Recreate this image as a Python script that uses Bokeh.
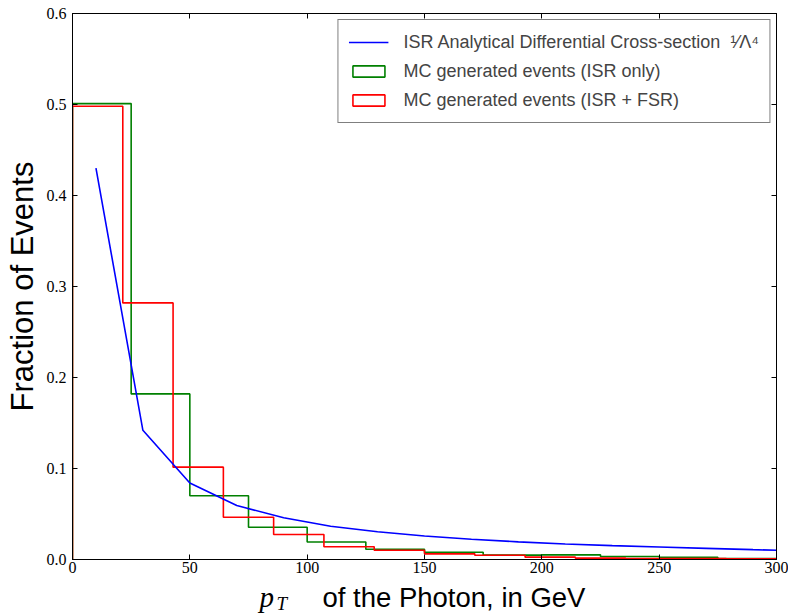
import numpy as np
from bokeh.plotting import figure
from bokeh.layouts import column
from bokeh.models import (Range1d, LinearAxis, FixedTicker, PrintfTickFormatter, Label,
                          Legend, LegendItem)
from bokeh.embed import file_html
from bokeh.resources import INLINE

# ---------------- data ----------------
x_ticks = [0, 50, 100, 150, 200, 250, 300]
y_ticks = [0.0, 0.1, 0.2, 0.3, 0.4, 0.5, 0.6]

# analytical ISR curve
curve_pt = [10, 30, 50, 70, 90, 110, 130, 150, 170, 190, 210, 230, 250, 270, 290, 310]
curve_frac = [0.430, 0.142, 0.084, 0.0593, 0.0458, 0.0365, 0.0305, 0.0258, 0.0222,
              0.0194, 0.0171, 0.0152, 0.0137, 0.0122, 0.0108, 0.0095]

# MC (ISR only) histogram
isr_edges = [0, 25, 50, 75, 100, 125, 150, 175, 200, 225, 250, 275, 300]
isr_frac = [0.501, 0.182, 0.070, 0.0355, 0.0193, 0.0113, 0.0080, 0.0048, 0.0051,
            0.0033, 0.0025, 0.0010]

# MC (ISR + FSR) histogram
fsr_edges = [0, 21.43, 42.86, 64.29, 85.71, 107.14, 128.57, 150, 171.43, 192.86,
             214.29, 235.71, 257.14, 278.57, 300]
fsr_frac = [0.498, 0.282, 0.1015, 0.0465, 0.0275, 0.0140, 0.0102, 0.0062, 0.0047,
            0.0026, 0.0015, 0.0010, 0.0010, 0.0008]

labels = ["ISR Analytical Differential Cross-section\u00a0\u00a0\u00b9\u2044\u039b\u2074",
          "MC generated events (ISR only)",
          "MC generated events (ISR + FSR)"]


def outline(edges, vals):
    xs, ys = [edges[0]], [0.0]
    for i, v in enumerate(vals):
        xs += [edges[i], edges[i + 1]]
        ys += [v, v]
    xs.append(edges[-1])
    ys.append(0.0)
    return xs, ys


p = figure(width=788, height=580, output_backend="svg", toolbar_location=None,
           x_range=Range1d(0, 300), y_range=Range1d(0, 0.6),
           min_border_left=72, min_border_right=12, min_border_top=13, min_border_bottom=21,
           background_fill_color="white", border_fill_color="white")
p.grid.visible = False
p.outline_line_color = "black"
p.outline_line_width = 1

for ax in (p.xaxis[0], p.yaxis[0]):
    ax.major_tick_in = 5
    ax.major_tick_out = 0
    ax.minor_tick_line_color = None
    ax.axis_line_color = "black"
    ax.major_tick_line_color = "black"
    ax.major_label_text_font = "Liberation Serif"
    ax.major_label_text_font_size = "16px"
    ax.major_label_text_color = "black"
    ax.major_label_standoff = 6
p.xaxis[0].major_label_standoff = 2
p.xaxis[0].ticker = FixedTicker(ticks=x_ticks)
p.yaxis[0].ticker = FixedTicker(ticks=y_ticks)
p.yaxis[0].formatter = PrintfTickFormatter(format="%.1f")

p.yaxis[0].axis_label = "Fraction of Events"
p.yaxis[0].axis_label_text_font = "Liberation Sans"
p.yaxis[0].axis_label_text_font_style = "normal"
p.yaxis[0].axis_label_text_font_size = "31px"
p.yaxis[0].axis_label_text_color = "black"
p.yaxis[0].axis_label_standoff = 4

for loc, ticks in (("above", x_ticks), ("right", y_ticks)):
    ax2 = LinearAxis(ticker=FixedTicker(ticks=ticks), major_tick_in=5, major_tick_out=0,
                     minor_tick_line_color=None,
                     major_label_overrides={t: "" for t in ticks},
                     major_label_standoff=0, axis_line_color="black")
    p.add_layout(ax2, loc)

# histograms (step outlines)
gx, gy = outline(isr_edges, isr_frac)
rx, ry = outline(fsr_edges, fsr_frac)
g_line = p.line(gx, gy, line_color="#008000", line_width=1.6)
r_line = p.line(rx, ry, line_color="#ff0000", line_width=1.6)
b_line = p.line(curve_pt, curve_frac, line_color="#0000ff", line_width=1.6)

# bar versions of the histograms, hidden, used for the legend boxes
g_box = p.quad(left=isr_edges[:-1], right=isr_edges[1:], top=isr_frac, bottom=0,
               fill_color=None, line_color="#008000", line_width=1.6)
r_box = p.quad(left=fsr_edges[:-1], right=fsr_edges[1:], top=fsr_frac, bottom=0,
               fill_color=None, line_color="#ff0000", line_width=1.6)
g_box.visible = False
r_box.visible = False

legend = Legend(items=[LegendItem(label=labels[0], renderers=[b_line]),
                       LegendItem(label=labels[1], renderers=[g_box]),
                       LegendItem(label=labels[2], renderers=[r_box])],
                location="top_right", margin=6, padding=10, spacing=5,
                glyph_width=40, glyph_height=14, label_height=24, label_standoff=15,
                label_text_font="Liberation Sans", label_text_font_size="18px",
                border_line_color="black", border_line_width=1,
                background_fill_color="white", background_fill_alpha=1.0,
                inactive_fill_alpha=0.0, click_policy="none")
p.add_layout(legend)

# strip below the plot holding the x axis title
xt = figure(width=788, height=33, output_backend="svg", toolbar_location=None,
            x_range=Range1d(0, 1), y_range=Range1d(0, 1), x_axis_type=None,
            y_axis_type=None, min_border_left=72, min_border_right=12,
            min_border_top=0, min_border_bottom=0, outline_line_color=None,
            background_fill_color="white", border_fill_color="white")
xt.grid.visible = False
xt.add_layout(Label(x=187, y=16.8, x_units="screen", y_units="screen", text="p",
                    text_font="Liberation Serif", text_font_style="italic",
                    text_font_size="29px", text_align="left", text_baseline="middle",
                    text_color="black"))
xt.add_layout(Label(x=204, y=10.5, x_units="screen", y_units="screen", text="T",
                    text_font="Liberation Serif", text_font_style="italic",
                    text_font_size="19px", text_align="left", text_baseline="middle",
                    text_color="black"))
xt.add_layout(Label(x=250, y=16.5, x_units="screen", y_units="screen",
                    text="of the Photon, in GeV", text_font="Liberation Sans",
                    text_font_size="27.5px", text_align="left", text_baseline="middle",
                    text_color="black"))

page = column(p, xt, spacing=0)
open("out.html", "w").write(file_html(page, INLINE))
